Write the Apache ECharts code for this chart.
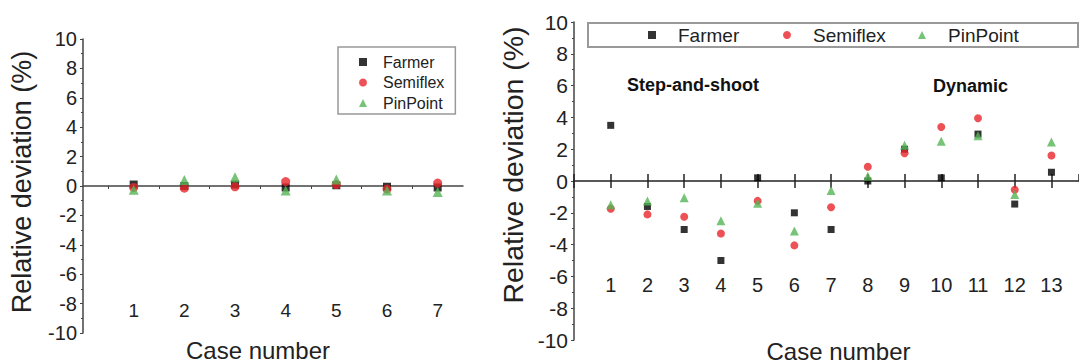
<!DOCTYPE html>
<html>
<head>
<meta charset="utf-8">
<script src="https://cdn.jsdelivr.net/npm/echarts@6/dist/echarts.min.js"></script>
<style>
  html, body { margin: 0; padding: 0; background: #fff; }
  #chart { width: 1079px; height: 360px; }
</style>
</head>
<body>
<div id="chart"></div>
<script>
// left panel: cases 1-7
var casesA = [1, 2, 3, 4, 5, 6, 7];
var farmerA = [0.1, 0.0, 0.1, -0.1, 0.05, -0.05, -0.1];
var semiflexA = [-0.1, -0.15, -0.05, 0.3, 0.1, -0.2, 0.2];
var pinpointA = [-0.25, 0.4, 0.6, -0.3, 0.45, -0.3, -0.4];

// right panel: cases 1-13
var casesB = [1, 2, 3, 4, 5, 6, 7, 8, 9, 10, 11, 12, 13];
var farmerB = [3.5, -1.6, -3.05, -5.0, 0.2, -2.0, -3.05, 0.0, 2.0, 0.2, 2.95, -1.45, 0.55];
var semiflexB = [-1.75, -2.1, -2.25, -3.3, -1.25, -4.05, -1.65, 0.9, 1.75, 3.4, 3.95, -0.55, 1.6];
var pinpointB = [-1.5, -1.25, -1.05, -2.5, -1.4, -3.15, -0.6, 0.3, 2.25, 2.5, 2.85, -0.85, 2.45];

var names = ['Farmer', 'Semiflex', 'PinPoint'];
var colors = ['#000000', '#e8252b', '#55b455'];
var symbols = ['rect', 'circle', 'triangle'];

var font = 'Liberation Sans, Arial, sans-serif';
var axisColor = '#444';

// grid geometry (zero line sits at the middle of each grid)
var gridA = { left: 83, top: 39, width: 380, height: 294 };
var gridB = { left: 574, top: 22, width: 505, height: 318 };

function pairs(xs, ys) {
    return xs.map(function (x, i) { return [x, ys[i]]; });
}

function caseLabel(v) {
    return (v >= 1 && v === Math.round(v)) ? String(v) : '';
}

var myChart = echarts.init(document.getElementById('chart'), null, { renderer: 'svg' });

function yAxisFor(grid, labelSize, nameSize, namePad) {
    return {
        gridIndex: grid,
        type: 'value',
        min: -10,
        max: 10,
        interval: 2,
        name: 'Relative deviation (%)',
        nameLocation: 'middle',
        nameGap: 61,
        nameRotate: 90,
        nameTextStyle: { fontFamily: font, fontSize: nameSize, color: '#222', verticalAlign: 'middle', padding: namePad },
        axisLine: { show: true, lineStyle: { color: axisColor, width: 1.5 } },
        axisTick: { show: true, length: 3, lineStyle: { color: axisColor } },
        minorTick: { show: true, splitNumber: 2, length: 2, lineStyle: { color: axisColor } },
        axisLabel: { fontFamily: font, fontSize: labelSize, color: '#222', margin: 6 },
        splitLine: { show: false }
    };
}

var series = [];
var dataA = [farmerA, semiflexA, pinpointA];
var dataB = [farmerB, semiflexB, pinpointB];
var sizesA = [8, 9, 10];
var sizesB = [7, 8, 9];
for (var i = 0; i < 3; i++) {
    series.push({
        name: names[i], type: 'scatter', xAxisIndex: 0, yAxisIndex: 0,
        symbol: symbols[i], symbolSize: sizesA[i],
        itemStyle: { color: colors[i] },
        data: pairs(casesA, dataA[i])
    });
}
for (var j = 0; j < 3; j++) {
    series.push({
        name: names[j], type: 'scatter', xAxisIndex: 1, yAxisIndex: 1,
        symbol: symbols[j], symbolSize: sizesB[j],
        itemStyle: { color: colors[j] },
        data: pairs(casesB, dataB[j])
    });
}

var option = {
    animation: false,
    textStyle: { fontFamily: font },
    grid: [
        Object.assign({ outerBoundsMode: 'none', containLabel: false }, gridA),
        Object.assign({ outerBoundsMode: 'none', containLabel: false }, gridB)
    ],
    legend: [
        {
            data: names, orient: 'vertical', left: 338, top: 47,
            padding: [7, 11, 3, 21], itemGap: 4.5, itemWidth: 8, itemHeight: 8,
            borderColor: '#999', borderWidth: 1.5,
            textStyle: { fontFamily: font, fontSize: 16, color: '#222', lineHeight: 16, padding: [0, 0, 0, 11] }
        },
        {
            data: names, orient: 'horizontal', left: 588, top: 23,
            padding: [2, 40, 2, 60], itemGap: 15, itemWidth: 8, itemHeight: 8,
            borderColor: '#999', borderWidth: 2,
            textStyle: { fontFamily: font, fontSize: 19, color: '#222', lineHeight: 20, width: 90, padding: [0, 0, 0, 17] }
        }
    ],
    xAxis: [
        {
            gridIndex: 0, type: 'value', min: 0, max: 7.5, interval: 1,
            position: 'bottom', offset: -gridA.height / 2,
            name: 'Case number', nameLocation: 'middle', nameGap: 152,
            nameTextStyle: { fontFamily: font, fontSize: 24, color: '#222', verticalAlign: 'top', padding: [0, 30, 0, 0] },
            axisLine: { onZero: false, lineStyle: { color: axisColor, width: 1.5 } },
            axisTick: { show: false },
            minorTick: { show: true, splitNumber: 2, length: 3, lineStyle: { color: axisColor, width: 1 } },
            axisLabel: {
                fontFamily: font, fontSize: 19, color: '#222', margin: 115,
                showMaxLabel: false, formatter: caseLabel
            },
            splitLine: { show: false }
        },
        {
            gridIndex: 1, type: 'value', min: 0, max: 13.75, interval: 1,
            position: 'bottom', offset: -gridB.height / 2,
            name: 'Case number', nameLocation: 'middle', nameGap: 158,
            nameTextStyle: { fontFamily: font, fontSize: 24, color: '#222', verticalAlign: 'top', padding: [0, 0, 0, 24] },
            axisLine: { onZero: false, lineStyle: { color: '#222', width: 1.5 } },
            axisTick: { show: true, length: 7, lineStyle: { color: '#222', width: 1.5 } },
            axisLabel: {
                fontFamily: font, fontSize: 20, color: '#222', margin: 94,
                showMaxLabel: false, formatter: caseLabel
            },
            splitLine: { show: false }
        },
        {
            gridIndex: 1, type: 'value', min: 0, max: 13.75, interval: 1,
            position: 'top', offset: -gridB.height / 2,
            axisLine: { show: false, onZero: false },
            axisTick: { show: true, length: 7, lineStyle: { color: '#222', width: 1.5 } },
            axisLabel: { show: false },
            splitLine: { show: false }
        }
    ],
    yAxis: [
        yAxisFor(0, 20, 27, [0, 0, 0, 8]),
        yAxisFor(1, 21, 28.5, [0, 0, 0, 32])
    ],
    graphic: [
        { type: 'text', left: 627, top: 76, style: { text: 'Step-and-shoot', font: 'bold 18px ' + font, fill: '#111' } },
        { type: 'text', left: 933, top: 77, style: { text: 'Dynamic', font: 'bold 18px ' + font, fill: '#111' } }
    ],
    series: series
};

myChart.setOption(option);
</script>
</body>
</html>
